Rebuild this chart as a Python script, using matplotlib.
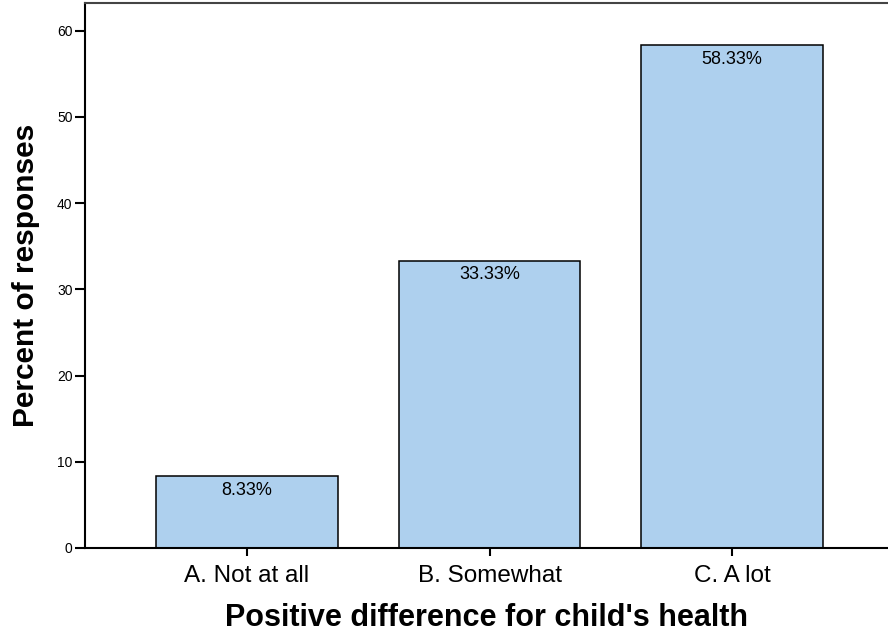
import matplotlib
matplotlib.use("Agg")
import matplotlib.pyplot as plt

plt.rcParams['font.family'] = ['Liberation Sans', 'DejaVu Sans']

# survey answers and their share of responses
categories = ['A. Not at all', 'B. Somewhat', 'C. A lot']
percents = [8.33, 33.33, 58.33]
y_ticks = [0, 10, 20, 30, 40, 50, 60]

fig = plt.figure(figsize=(8.88, 6.36), dpi=100)
ax = fig.add_axes([0.0957, 0.1384, 0.9043, 0.8569])

pos = list(range(len(categories)))
bars = ax.bar(pos, percents, width=0.75, color='#AED0EE', edgecolor='black', linewidth=1.1)

for x, v in zip(pos, percents):
    ax.annotate(f'{v:.2f}%', (x, v), xytext=(0, -4), textcoords='offset points',
                ha='center', va='top', fontsize=13)

ax.set_xlim(-0.668, 2.643)
ax.set_ylim(0, 63.2)
ax.set_yticks(y_ticks)
ax.set_xticks(pos)
ax.set_xticklabels(categories, fontsize=17.5)
ax.tick_params(axis='y', labelsize=10, length=7, width=1.5, direction='out', pad=2)
ax.tick_params(axis='x', length=6, width=1.5, direction='out', pad=6)

ax.spines['right'].set_visible(False)
for side in ['left', 'bottom']:
    ax.spines[side].set_linewidth(1.5)
ax.spines['top'].set_linewidth(1.5)
ax.spines['top'].set_color('#444444')

ax.set_ylabel('Percent of responses', fontsize=21.5, fontweight='bold', labelpad=12)
ax.set_xlabel("Positive difference for child's health", fontsize=22, fontweight='bold', labelpad=12)

fig.savefig('out.png', dpi=100)
